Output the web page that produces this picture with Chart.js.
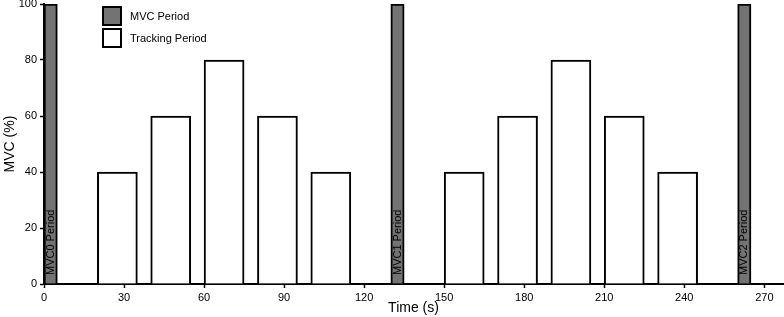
<!DOCTYPE html>
<html><head><meta charset="utf-8">
<script src="https://cdn.jsdelivr.net/npm/chart.js@4/dist/chart.umd.min.js"></script>
<style>html,body{margin:0;padding:0;background:#fff}canvas{display:block}</style>
</head><body>
<canvas id="c" width="784" height="317"></canvas>
<script>
// ---- data ----
const mvcStarts = [0, 130, 260];
const mvcValues = [100, 100, 100];
const mvcLabels = ['MVC0 Period', 'MVC1 Period', 'MVC2 Period'];
const mvcDuration = 5;
const trackStarts = [20, 40, 60, 80, 100, 150, 170, 190, 210, 230];
const trackValues = [40, 60, 80, 60, 40, 40, 60, 80, 60, 40];
const trackDuration = 15;
const xTicks = [0, 30, 60, 90, 120, 150, 180, 210, 240, 270];
const yTicks = [0, 20, 40, 60, 80, 100];
const xMax = 277;

const FONT = "'Liberation Sans', Arial, sans-serif";
Chart.defaults.font.family = FONT;
Chart.defaults.color = '#000';

function thickness(dur) {
  return (ctx) => {
    const s = ctx.chart.scales && ctx.chart.scales.x;
    if (!s) return undefined;
    return s.getPixelForValue(dur) - s.getPixelForValue(0);
  };
}

const barLabelPlugin = {
  id: 'barLabels',
  afterDatasetsDraw(chart) {
    const meta = chart.getDatasetMeta(0);
    const y0 = chart.scales.y.getPixelForValue(0);
    const ctx = chart.ctx;
    meta.data.forEach((bar, i) => {
      ctx.save();
      ctx.translate(bar.x, y0 - 9);
      ctx.rotate(-Math.PI / 2);
      ctx.font = '11px ' + FONT;
      ctx.fillStyle = '#000';
      ctx.textAlign = 'left';
      ctx.textBaseline = 'middle';
      ctx.fillText(mvcLabels[i], 0, 0);
      ctx.restore();
    });
  }
};

const legendPlugin = {
  id: 'customLegend',
  afterDraw(chart) {
    const ctx = chart.ctx;
    const a = chart.chartArea;
    const x = a.left + 58, y = a.top + 2;
    chart.data.datasets.forEach((ds, i) => {
      const by = y + i * 22;
      ctx.save();
      ctx.fillStyle = ds.backgroundColor;
      ctx.fillRect(x, by, 20, 20);
      ctx.lineWidth = 2;
      ctx.strokeStyle = '#000';
      ctx.strokeRect(x + 1, by + 1, 18, 18);
      ctx.font = '11px ' + FONT;
      ctx.fillStyle = '#000';
      ctx.textBaseline = 'middle';
      ctx.textAlign = 'left';
      ctx.fillText(ds.label, x + 28, by + 11);
      ctx.restore();
    });
  }
};

new Chart(document.getElementById('c'), {
  type: 'bar',
  data: {
    datasets: [
      {
        label: 'MVC Period',
        data: mvcStarts.map((s, i) => ({ x: s + mvcDuration / 2, y: mvcValues[i] })),
        backgroundColor: '#737373',
        borderColor: '#000',
        borderWidth: 2,
        grouped: false,
        barThickness: thickness(mvcDuration)
      },
      {
        label: 'Tracking Period',
        data: trackStarts.map((s, i) => ({ x: s + trackDuration / 2, y: trackValues[i] })),
        backgroundColor: '#ffffff',
        borderColor: '#000',
        borderWidth: 2,
        grouped: false,
        barThickness: thickness(trackDuration)
      }
    ]
  },
  options: {
    responsive: false,
    animation: false,
    devicePixelRatio: 1,
    layout: { padding: { top: 4, right: 1, left: 0, bottom: 0 } },
    plugins: { legend: { display: false }, tooltip: { enabled: false } },
    scales: {
      x: {
        type: 'linear',
        min: 0, max: xMax,
        offset: false,
        grid: { offset: false, drawOnChartArea: false, drawTicks: true, tickLength: 4, color: '#000', tickWidth: 1.5 },
        border: { display: true, color: '#000', width: 2 },
        ticks: { autoSkip: false, maxRotation: 0, padding: 3, font: { size: 11 }, color: '#000' },
        afterBuildTicks: (s) => { s.ticks = xTicks.map(v => ({ value: v })); },
        afterFit: (s) => { s.height = 33; s.paddingLeft = 0; s.paddingRight = 0; },
        title: { display: true, text: 'Time (s)', font: { size: 14 }, color: '#000', padding: { top: 0, bottom: 0 } }
      },
      y: {
        type: 'linear',
        min: 0, max: 100,
        grid: { drawOnChartArea: false, drawTicks: true, tickLength: 4, color: '#000', tickWidth: 1.5 },
        border: { display: true, color: '#000', width: 2 },
        ticks: { padding: 3, font: { size: 11 }, color: '#000' },
        afterBuildTicks: (s) => { s.ticks = yTicks.map(v => ({ value: v })); },
        afterFit: (s) => { s.width = 44; s.paddingTop = 0; s.paddingBottom = 0; },
        title: { display: true, text: 'MVC (%)', font: { size: 14 }, color: '#000', padding: { top: 2, bottom: 0 } }
      }
    }
  },
  plugins: [barLabelPlugin, legendPlugin]
});
</script>
</body></html>
